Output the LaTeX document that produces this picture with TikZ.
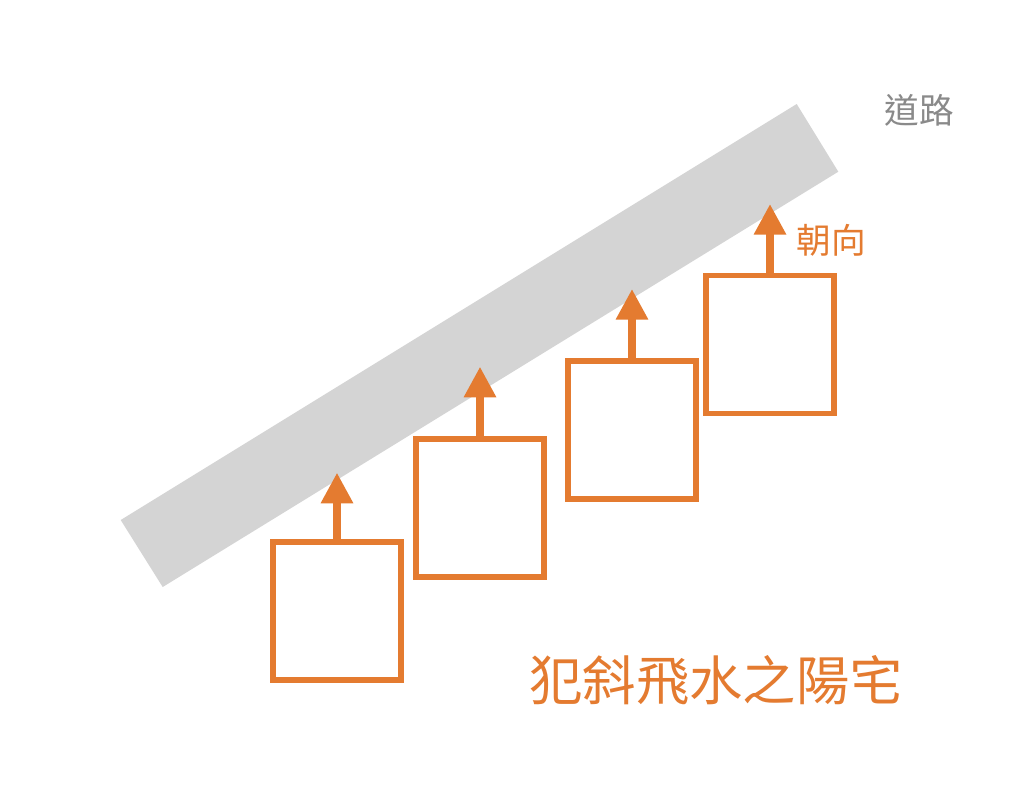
\documentclass[tikz,border=0pt]{standalone}
\usepackage{fontspec}
\setmainfont{Noto Sans CJK TC}
\usetikzlibrary{arrows.meta}
\definecolor{fsorange}{RGB}{228,123,48}
\definecolor{roadgray}{RGB}{212,212,212}
\definecolor{labelgray}{RGB}{138,138,138}
\tikzset{
  house/.style={draw=fsorange, line width=4.3pt, fill=white, minimum width=96pt, minimum height=103.5pt, inner sep=0pt, outer sep=0pt},
  facing/.style={draw=fsorange, line width=5.5pt, -{Triangle[length=23pt,width=23pt]}, fill=fsorange},
  road/.style={fill=roadgray, draw=none},
}
\begin{document}
\begin{tikzpicture}[x=0.75pt,y=-0.75pt]
\useasboundingbox (0,0) rectangle (1024,801);
\fill[white] (0,0) rectangle (1024,801);
% road
\fill[road] (120.7,520) -- (162.7,587) -- (838.3,171.7) -- (796.7,104) -- cycle;
% houses
\node[house] (h1) at (337,611.25) {};
\node[house] (h2) at (480,508) {};
\node[house] (h3) at (632,430) {};
\node[house] (h4) at (770,344.5) {};
% arrow tips
\coordinate (t1) at (337,472.7);
\coordinate (t2) at (480,366.7);
\coordinate (t3) at (632,289);
\coordinate (t4) at (770,204);
\draw[facing] (h1.north) -- (t1);
\draw[facing] (h2.north) -- (t2);
\draw[facing] (h3.north) -- (t3);
\draw[facing] (h4.north) -- (t4);
% labels
\node[text=labelgray, font=\fontsize{26pt}{30pt}\selectfont, inner sep=0pt] (road) at (919,110) {道路};
\node[text=fsorange, font=\fontsize{26pt}{30pt}\selectfont, inner sep=0pt] (dir) at (831,240) {朝向};
\node[text=fsorange, font=\fontsize{40pt}{46pt}\selectfont, inner sep=0pt] (title) at (716,680) {犯斜飛水之陽宅};
\end{tikzpicture}
\end{document}
